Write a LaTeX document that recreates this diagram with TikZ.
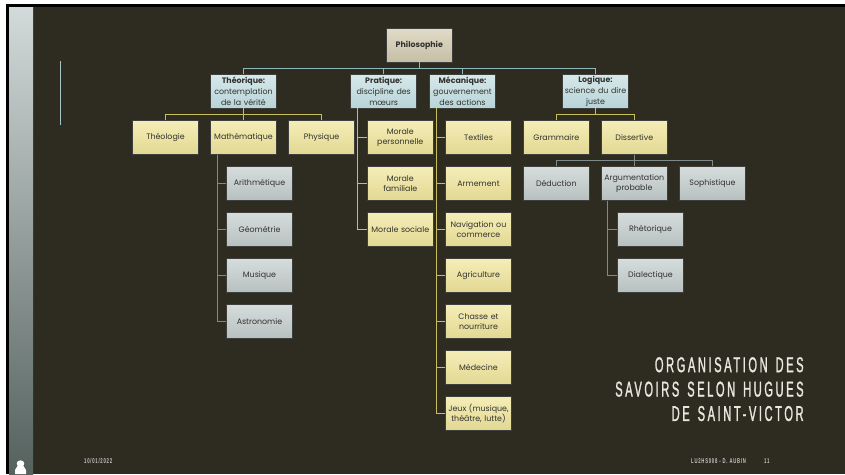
\documentclass[tikz,border=0pt]{standalone}
\usepackage{fontspec}
\setmainfont{Poppins}
\newfontfamily\titlefont[FakeStretch=0.52,LetterSpace=12,FakeBold=1.2,WordSpace=1.4]{Liberation Sans}
\newfontfamily\footfont[FakeStretch=0.6,LetterSpace=11]{Liberation Sans}
\definecolor{bg}{RGB}{46,43,33}
\definecolor{stripTop}{RGB}{210,218,218}
\definecolor{stripBot}{RGB}{84,97,93}
\definecolor{bord}{RGB}{62,62,58}
\definecolor{txt}{RGB}{50,50,46}
\definecolor{yl1}{RGB}{244,237,182}
\definecolor{yl2}{RGB}{226,216,148}
\definecolor{bl1}{RGB}{214,232,234}
\definecolor{bl2}{RGB}{184,212,215}
\definecolor{gr1}{RGB}{214,220,220}
\definecolor{gr2}{RGB}{183,192,192}
\definecolor{ph1}{RGB}{224,219,200}
\definecolor{ph2}{RGB}{198,190,165}
\definecolor{bcon}{RGB}{141,184,188}
\definecolor{ycon}{RGB}{201,190,90}
\definecolor{gcon}{RGB}{128,138,138}
\definecolor{ttl}{RGB}{232,232,224}
\definecolor{foot}{RGB}{200,200,195}
\tikzset{
  box/.style={draw=bord, line width=0.8pt, minimum width=65.5pt, minimum height=33.5pt,
    inner sep=1pt, align=center, text=txt, text width=64pt,
    font=\fontsize{7.9}{10.6}\selectfont},
  ybox/.style={box, top color=yl1, bottom color=yl2},
  bbox/.style={box, top color=bl1, bottom color=bl2},
  gbox/.style={box, top color=gr1, bottom color=gr2},
  pbox/.style={box, top color=ph1, bottom color=ph2},
  bline/.style={draw=bcon, line width=1pt},
  yline/.style={draw=ycon, line width=1pt},
  gline/.style={draw=gcon, line width=1pt},
  foottext/.style={anchor=west, text=foot, inner sep=0pt, font=\footfont\bfseries\fontsize{7}{8}\selectfont},
}
\begin{document}
\begin{tikzpicture}[x=1pt,y=-1pt]
\useasboundingbox (0,0) rectangle (845,474);
\fill[white] (0,0) rectangle (845,474);
\fill[black] (6,4) rectangle (845,474);
\fill[bg] (9,7) rectangle (845,474);
\shade[top color=stripTop, bottom color=stripBot] (9,7) rectangle (33,474);
% pawn glyph
\fill[white] (20.5,463.6) ellipse (3.8pt and 3.3pt);
\fill[white] (17.5,466) -- (23.5,466) -- (26,470) -- (26,474) -- (15,474) -- (15,470) -- cycle;
% small vertical line
\draw[bcon!80!white, line width=0.9pt] (60,61) -- (60,124.5);

% level 0
\node[pbox] (phil) at (419.3,45.3) {\textbf{Philosophie}};
% level 1
\node[bbox] (theo) at (243.5,91.3) {\textbf{Théorique:}\\contemplation\\de la vérité};
\node[bbox] (prat) at (383.7,91.3) {\textbf{Pratique:}\\discipline des\\mœurs};
\node[bbox] (meca) at (462.5,91.3) {\textbf{Mécanique:}\\gouvernement\\des actions};
\node[bbox] (logi) at (595.5,91.3) {\textbf{Logique:}\\science du dire\\juste};
% theorique children
\node[ybox] (theol) at (165.5,137.5) {Théologie};
\node[ybox] (math) at (243.5,137.5) {Mathématique};
\node[ybox] (phys) at (321.5,137.5) {Physique};
\node[gbox] (arith) at (259.5,183.5) {Arithmétique};
\node[gbox] (geom) at (259.5,229.5) {Géométrie};
\node[gbox] (musi) at (259.5,275.5) {Musique};
\node[gbox] (astr) at (259.5,321.5) {Astronomie};
% pratique children
\node[ybox] (morp) at (400.3,137.5) {Morale\\personnelle};
\node[ybox] (morf) at (400.3,183.5) {Morale\\familiale};
\node[ybox] (mors) at (400.3,229.5) {Morale sociale};
% mecanique children
\node[ybox] (text) at (478.5,137.5) {Textiles};
\node[ybox] (arme) at (478.5,183.5) {Armement};
\node[ybox] (navi) at (478.5,229.5) {Navigation ou\\commerce};
\node[ybox] (agri) at (478.5,275.5) {Agriculture};
\node[ybox] (chas) at (478.5,321.5) {Chasse et\\nourriture};
\node[ybox] (mede) at (478.5,367.5) {Médecine};
\node[ybox] (jeux) at (478.5,413.5) {Jeux (musique,\\théâtre, lutte)};
% logique children
\node[ybox] (gram) at (556.3,137.5) {Grammaire};
\node[ybox] (diss) at (634.3,137.5) {Dissertive};
\node[gbox] (dedu) at (556.3,183.5) {Déduction};
\node[gbox] (argu) at (634.3,183.5) {Argumentation\\probable};
\node[gbox] (soph) at (712.5,183.5) {Sophistique};
\node[gbox] (rhet) at (650.5,229.5) {Rhétorique};
\node[gbox] (dial) at (650.5,275.5) {Dialectique};

% connectors
\path[bline] (phil.south) -- ++(0,6) -| (theo.north);
\path[bline] (phil.south) -- ++(0,6) -| (prat.north);
\path[bline] (phil.south) -- ++(0,6) -| (meca.north);
\path[bline] (phil.south) -- ++(0,6) -| (logi.north);
\path[yline] (theo.south) -- ++(0,6) -| (theol.north);
\path[yline] (theo.south) -- ++(0,6) -| (math.north);
\path[yline] (theo.south) -- ++(0,6) -| (phys.north);
\path[gline] ([xshift=7pt]math.south west) |- (arith.west);
\path[gline] ([xshift=7pt]math.south west) |- (geom.west);
\path[gline] ([xshift=7pt]math.south west) |- (musi.west);
\path[gline] ([xshift=7pt]math.south west) |- (astr.west);
\path[yline] ([xshift=7.3pt]prat.south west) |- (morp.west);
\path[yline] ([xshift=7.3pt]prat.south west) |- (morf.west);
\path[yline] ([xshift=7.3pt]prat.south west) |- (mors.west);
\path[yline] ([xshift=7.3pt]meca.south west) |- (text.west);
\path[yline] ([xshift=7.3pt]meca.south west) |- (arme.west);
\path[yline] ([xshift=7.3pt]meca.south west) |- (navi.west);
\path[yline] ([xshift=7.3pt]meca.south west) |- (agri.west);
\path[yline] ([xshift=7.3pt]meca.south west) |- (chas.west);
\path[yline] ([xshift=7.3pt]meca.south west) |- (mede.west);
\path[yline] ([xshift=7.3pt]meca.south west) |- (jeux.west);
\path[yline] (logi.south) -- ++(0,6) -| (gram.north);
\path[yline] (logi.south) -- ++(0,6) -| (diss.north);
\path[gline] (diss.south) -- ++(0,5.7) -| (dedu.north);
\path[gline] (diss.south) -- ++(0,5.7) -| (argu.north);
\path[gline] (diss.south) -- ++(0,5.7) -| (soph.north);
\path[gline] ([xshift=7pt]argu.south west) |- (rhet.west);
\path[gline] ([xshift=7pt]argu.south west) |- (dial.west);

% title
\node[anchor=north east, align=right, text=ttl, inner sep=0pt,
  font=\titlefont\fontsize{21.4}{24.4}\selectfont] (title) at (803.8,357)
  {ORGANISATION DES\\SAVOIRS SELON HUGUES\\DE SAINT-VICTOR};
% footer
\node[foottext] (date) at (84,461) {10/01/2022};
\node[foottext] (auth) at (691,461) {LU2HS008 - D. AUBIN};
\node[foottext] (page) at (764,461) {11};
\end{tikzpicture}
\end{document}
